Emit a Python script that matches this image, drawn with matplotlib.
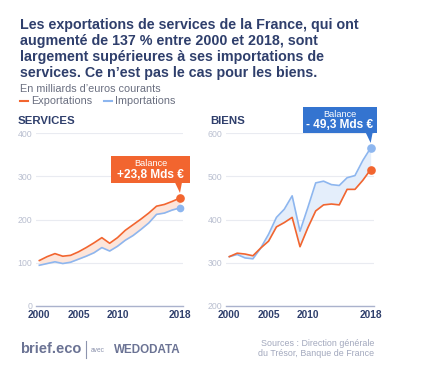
import matplotlib
matplotlib.use("Agg")
import matplotlib.pyplot as plt
from matplotlib.patches import Rectangle, Polygon
from matplotlib.lines import Line2D
import numpy as np

plt.rcParams['font.family'] = ['Liberation Sans', 'DejaVu Sans']

years = list(range(2000, 2019))
serv_exp = [105, 114, 121, 115, 117, 125, 135, 146, 158, 145, 158, 175, 188, 201, 215, 231, 235, 242, 250]
serv_imp = [94, 98, 102, 98, 101, 108, 115, 123, 135, 127, 138, 152, 163, 177, 192, 212, 215, 222, 227]
biens_exp = [314, 322, 320, 316, 334, 350, 383, 393, 405, 337, 381, 420, 434, 436, 434, 470, 470, 491, 516]
biens_imp = [314, 319, 311, 309, 334, 366, 405, 424, 455, 373, 428, 485, 489, 481, 479, 497, 502, 537, 566]
xtick_years = [2000, 2005, 2010, 2018]
serv_yticks = [0, 100, 200, 300, 400]
biens_yticks = [200, 300, 400, 500, 600]
title_lines = ["Les exportations de services de la France, qui ont",
               "augmenté de 137 % entre 2000 et 2018, sont",
               "largement supérieures à ses importations de",
               "services. Ce n\u2019est pas le cas pour les biens."]
serv_balance = "+23,8 Mds \u20ac"
biens_balance = "- 49,3 Mds \u20ac"

W, H = 448, 381
fig = plt.figure(figsize=(W / 100, H / 100), dpi=100)
fig.patch.set_facecolor('white')

ORANGE = '#f2652f'
BLUE = '#8db6ef'
NAVY = '#2f3f6c'
BOXBLUE = '#3474d0'
GREYTXT = '#6a6f80'


def fx(x):
    return x / W


def fy(y):
    return 1 - y / H


def axes_px(l, t, r, b):
    return fig.add_axes([fx(l), fy(b), fx(r) - fx(l), (b - t) / H])


def style(ax, ylim, yticks):
    ax.set_xlim(1999.6, 2018.4)
    ax.set_ylim(*ylim)
    for s in ax.spines.values():
        s.set_visible(False)
    ax.set_yticks(yticks)
    ax.set_xticks(xtick_years)
    ax.grid(axis='y', color='#e9ebf1', linewidth=0.8)
    ax.set_axisbelow(True)
    ax.axhline(ylim[0], color='#aab2cc', linewidth=1.0, zorder=1, clip_on=False)
    ax.tick_params(axis='y', length=0, labelsize=6.3, labelcolor='#b9bfd0', pad=3)
    ax.tick_params(axis='x', length=0, labelsize=7.3, labelcolor=NAVY, pad=3)
    for lab in ax.get_xticklabels():
        lab.set_fontweight('bold')
    ax.patch.set_alpha(0)


LW = 1.2

# Services
ax1 = axes_px(36.2, 133.3, 183.1, 305.8)
style(ax1, (0, 400), serv_yticks)
ax1.fill_between(years, serv_imp, serv_exp, color='#fde5da', linewidth=0)
ax1.plot(years, serv_imp, color=BLUE, linewidth=LW, solid_joinstyle='round')
ax1.plot(years, serv_exp, color=ORANGE, linewidth=LW, solid_joinstyle='round')
ax1.plot([years[-1]], [serv_imp[-1]], 'o', color=BLUE, markersize=4.5, clip_on=False)
ax1.plot([years[-1]], [serv_exp[-1]], 'o', color=ORANGE, markersize=5.2, clip_on=False)

# Biens
ax2 = axes_px(226.2, 133.3, 373.8, 305.8)
style(ax2, (200, 600), biens_yticks)
ax2.fill_between(years, biens_exp, biens_imp, color='#e4eefb', linewidth=0)
ax2.plot(years, biens_imp, color=BLUE, linewidth=LW, solid_joinstyle='round')
ax2.plot(years, biens_exp, color=ORANGE, linewidth=LW, solid_joinstyle='round')
ax2.plot([years[-1]], [biens_imp[-1]], 'o', color=BLUE, markersize=5.2, clip_on=False)
ax2.plot([years[-1]], [biens_exp[-1]], 'o', color=ORANGE, markersize=5.2, clip_on=False)

# Title
for i, line in enumerate(title_lines):
    fig.text(fx(20), fy(25 + 16 * i), line, fontsize=10.3, fontweight='bold',
             color=NAVY, va='center', ha='left')

fig.text(fx(20), fy(89), "En milliards d\u2019euros courants", fontsize=7.8,
         color=GREYTXT, va='center')
fig.lines.append(Line2D([fx(20), fx(28)], [fy(101), fy(101)], color=ORANGE,
                        linewidth=1.5, transform=fig.transFigure))
fig.text(fx(31), fy(101), "Exportations", fontsize=7.8, color=GREYTXT, va='center')
fig.lines.append(Line2D([fx(104), fx(112)], [fy(101), fy(101)], color=BLUE,
                        linewidth=1.5, transform=fig.transFigure))
fig.text(fx(115), fy(101), "Importations", fontsize=7.8, color=GREYTXT, va='center')

fig.text(fx(18), fy(121), "SERVICES", fontsize=8.2, fontweight='bold', color=NAVY, va='center')
fig.text(fx(210), fy(121), "BIENS", fontsize=8.2, fontweight='bold', color=NAVY, va='center')


def callout(ax, xval, yval, l, t, r, b, color, label):
    fig.canvas.draw()
    px, py = ax.transData.transform((xval, yval))
    tip = (px / W, py / H + 5 / H)
    fig.patches.append(Rectangle((fx(l), fy(b)), fx(r) - fx(l), (b - t) / H,
                                 facecolor=color, edgecolor='none',
                                 transform=fig.transFigure, zorder=5))
    basex = tip[0]
    fig.patches.append(Polygon([(basex - 5 / W, fy(b) + 0.5 / H), (basex + 2 / W, fy(b) + 0.5 / H), tip],
                               closed=True, facecolor=color, edgecolor='none',
                               transform=fig.transFigure, zorder=5))
    cx = (fx(l) + fx(r)) / 2
    fig.text(cx, fy(t + 7.5), "Balance", fontsize=6.6, color='white', ha='center', va='center', zorder=6)
    fig.text(cx, fy(t + 18.5), label, fontsize=8.6, fontweight='bold', color='white',
             ha='center', va='center', zorder=6)


callout(ax1, years[-1], serv_exp[-1], 111, 156, 190, 183, ORANGE, serv_balance)
callout(ax2, years[-1], biens_imp[-1], 303, 107, 377, 133, BOXBLUE, biens_balance)

# Footer
fig.text(fx(20), fy(349), "brief.eco", fontsize=10.5, fontweight='bold', color='#6b7394', va='center')
fig.lines.append(Line2D([fx(86), fx(86)], [fy(341), fy(358)], color='#8d94ae',
                        linewidth=0.8, transform=fig.transFigure))
fig.text(fx(91), fy(350), "avec", fontsize=4.8, color='#8d94ae', va='center')
fig.text(fx(114), fy(350), "WEDODATA", fontsize=8.4, fontweight='bold', color='#6b7394', va='center')
fig.text(fx(374), fy(343), "Sources : Direction générale", fontsize=6.4, color='#a2a8bd',
         ha='right', va='center')
fig.text(fx(374), fy(353), "du Trésor, Banque de France", fontsize=6.4, color='#a2a8bd',
         ha='right', va='center')

fig.savefig('out.png', dpi=100)
